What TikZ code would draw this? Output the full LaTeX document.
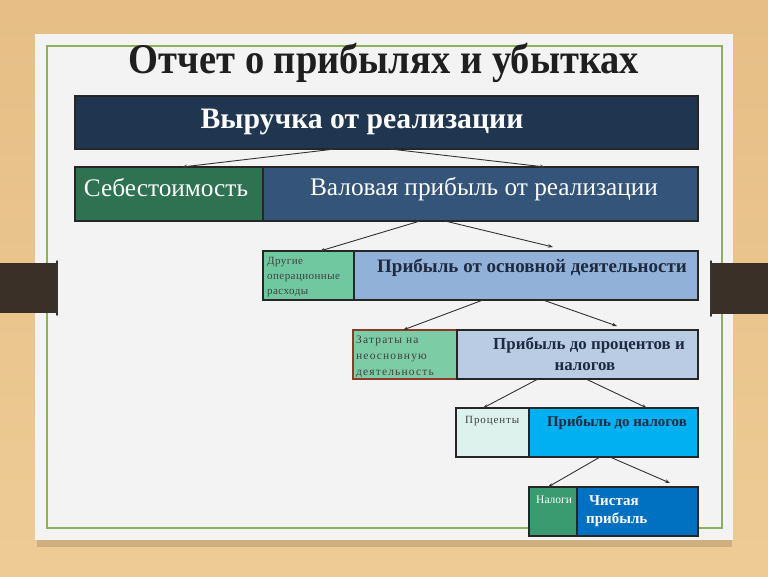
\documentclass[tikz,border=0pt]{standalone}
\usepackage{fontspec}
\setmainfont{Liberation Serif}
\newfontfamily\spacedA[LetterSpace=4]{Liberation Serif}
\newfontfamily\spacedB[LetterSpace=10]{Liberation Serif}
\newfontfamily\spacedC[LetterSpace=8]{Liberation Serif}
\usetikzlibrary{arrows.meta}
\definecolor{woodtop}{HTML}{E6BE86}
\definecolor{woodbot}{HTML}{EECB95}
\definecolor{paper}{HTML}{F3F3F3}
\definecolor{frame}{HTML}{8FB05A}
\definecolor{clipc}{HTML}{3B3027}
\definecolor{navy}{HTML}{1F3550}
\definecolor{greenA}{HTML}{2E7252}
\definecolor{blueA}{HTML}{34547A}
\definecolor{mintA}{HTML}{70C8A0}
\definecolor{blueB}{HTML}{92B1D8}
\definecolor{mintB}{HTML}{7CCCA6}
\definecolor{blueC}{HTML}{B9CCE4}
\definecolor{paleC}{HTML}{DDF2EC}
\definecolor{cyanC}{HTML}{00B0F0}
\definecolor{greenD}{HTML}{3A9A70}
\definecolor{blueD}{HTML}{0070C0}
\definecolor{darktext}{HTML}{1E2A40}
\definecolor{redbord}{HTML}{8E3A2A}
\begin{document}
\begin{tikzpicture}[x=1pt,y=-1pt,
  box/.style={draw=black!85, line width=1.3pt, inner sep=0pt, outer sep=0pt, anchor=north west},
  arr/.style={draw=black!80, line width=0.9pt, -{Stealth[length=5pt,width=3.5pt]}},
  small/.style={anchor=north west, align=left, inner sep=0pt},
]
\useasboundingbox (0,0) rectangle (768,576);
\shade[top color=woodtop, bottom color=woodbot] (0,0) rectangle (768,576);
% paper with shadow
\fill[black, opacity=0.13] (37,40) rectangle (732,547);
\fill[paper] (35,34) rectangle (733,540);
\draw[frame, line width=1.3pt] (47,46) rectangle (722,528);
% clips
\fill[clipc] (0,263) rectangle (57,313);
\fill[clipc] (711,263) rectangle (768,314);
\draw[black!80, line width=1.5pt, line cap=round] (57,261) -- (57,315);
\draw[black!80, line width=1.5pt, line cap=round] (711,261) -- (711,316);

% title
\node[font=\bfseries\fontsize{38.5}{42}\selectfont, text=black!88] (title) at (384,63) {\scalebox{1}[1.1]{Отчет о прибылях и убытках}};

% row 1
\node[box, fill=navy, minimum width=623pt, minimum height=53pt] (b1) at (75,96) {};
\node[font=\bfseries\fontsize{29.7}{32}\selectfont, text=white] (tb1) at (362,122) {Выручка от реализации};

% row 2
\node[box, fill=greenA, minimum width=188pt, minimum height=54pt] (c1) at (75,167) {};
\node[box, fill=blueA, minimum width=435pt, minimum height=54pt] (c2) at (263,167) {};
\node[font=\fontsize{25.3}{28}\selectfont, text=white] (tc1) at (166,188) {Себестоимость};
\node[font=\fontsize{25.3}{28}\selectfont, text=white] (tc2) at (484,189) {Валовая прибыль от реализации};

% row 3
\node[box, fill=mintA, minimum width=91pt, minimum height=49pt] (d1) at (263,251) {};
\node[box, fill=blueB, minimum width=344pt, minimum height=49pt] (d2) at (354,251) {};
\node[small, font=\spacedA\fontsize{11}{15}\selectfont, text=black!75] (td1) at (267,257) {Другие\\операционные\\расходы};
\node[font=\bfseries\fontsize{19}{22}\selectfont, text=darktext] (td2) at (532,268) {Прибыль от основной деятельности};

% row 4
\node[box, fill=mintB, minimum width=104pt, minimum height=49pt] (e1) at (353,330) {};
\draw[redbord, line width=1.3pt] (e1.north east) -- (e1.north west) -- (e1.south west) -- (e1.south east);
\node[box, fill=blueC, minimum width=241pt, minimum height=49pt] (e2) at (457,330) {};
\node[small, font=\spacedB\fontsize{11.5}{16}\selectfont, text=black!75] (te1) at (356,336) {Затраты на\\неосновную\\деятельность};
\node[align=center, font=\bfseries\fontsize{16.9}{21}\selectfont, text=darktext] (te2) at (585,354) {\hspace*{8pt}Прибыль до процентов и\\налогов};

% row 5
\node[box, fill=paleC, minimum width=73pt, minimum height=49pt] (f1) at (456,408) {};
\node[box, fill=cyanC, minimum width=169pt, minimum height=49pt] (f2) at (529,408) {};
\node[small, font=\spacedC\fontsize{11}{14}\selectfont, text=black!75] (tf1) at (465,416) {Проценты};
\node[font=\bfseries\fontsize{14.9}{17}\selectfont, text=darktext] (tf2) at (617,423) {Прибыль до налогов};

% row 6
\node[box, fill=greenD, minimum width=48pt, minimum height=49pt] (g1) at (529,487) {};
\node[box, fill=blueD, minimum width=121pt, minimum height=49pt] (g2) at (577,487) {};
\node[small, font=\fontsize{11.5}{12}\selectfont, text=white] (tg1) at (536,496) {Налоги};
\node[small, font=\bfseries\fontsize{15}{18}\selectfont, text=white] (tg2) at (586,495) {\hspace*{3pt}Чистая\\прибыль};

% arrows
\draw[arr] ([xshift=-51.5pt]b1.south) -- ([xshift=13pt]c1.north);
\draw[arr] ([xshift=3.5pt]b1.south) -- ([xshift=64.5pt]c2.north);
\draw[arr] ([xshift=-60.5pt]c2.south) -- ([xshift=11.5pt]d1.north);
\draw[arr] ([xshift=-35.5pt]c2.south) -- ([xshift=27pt,yshift=4pt]d2.north);
\draw[arr] ([xshift=-43pt]d2.south) -- ([xshift=-2pt]e1.north);
\draw[arr] ([xshift=17pt]d2.south) -- ([xshift=39.5pt,yshift=4pt]e2.north);
\draw[arr] ([xshift=-39.5pt]e2.south) -- ([xshift=-9.5pt]f1.north);
\draw[arr] ([xshift=8.5pt]e2.south) -- ([xshift=33.5pt]f2.north);
\draw[arr] ([xshift=-13.5pt]f2.south) -- ([xshift=-5pt]g1.north);
\draw[arr] ([xshift=-3.5pt]f2.south) -- ([xshift=32.5pt,yshift=4pt]g2.north);
\end{tikzpicture}
\end{document}
